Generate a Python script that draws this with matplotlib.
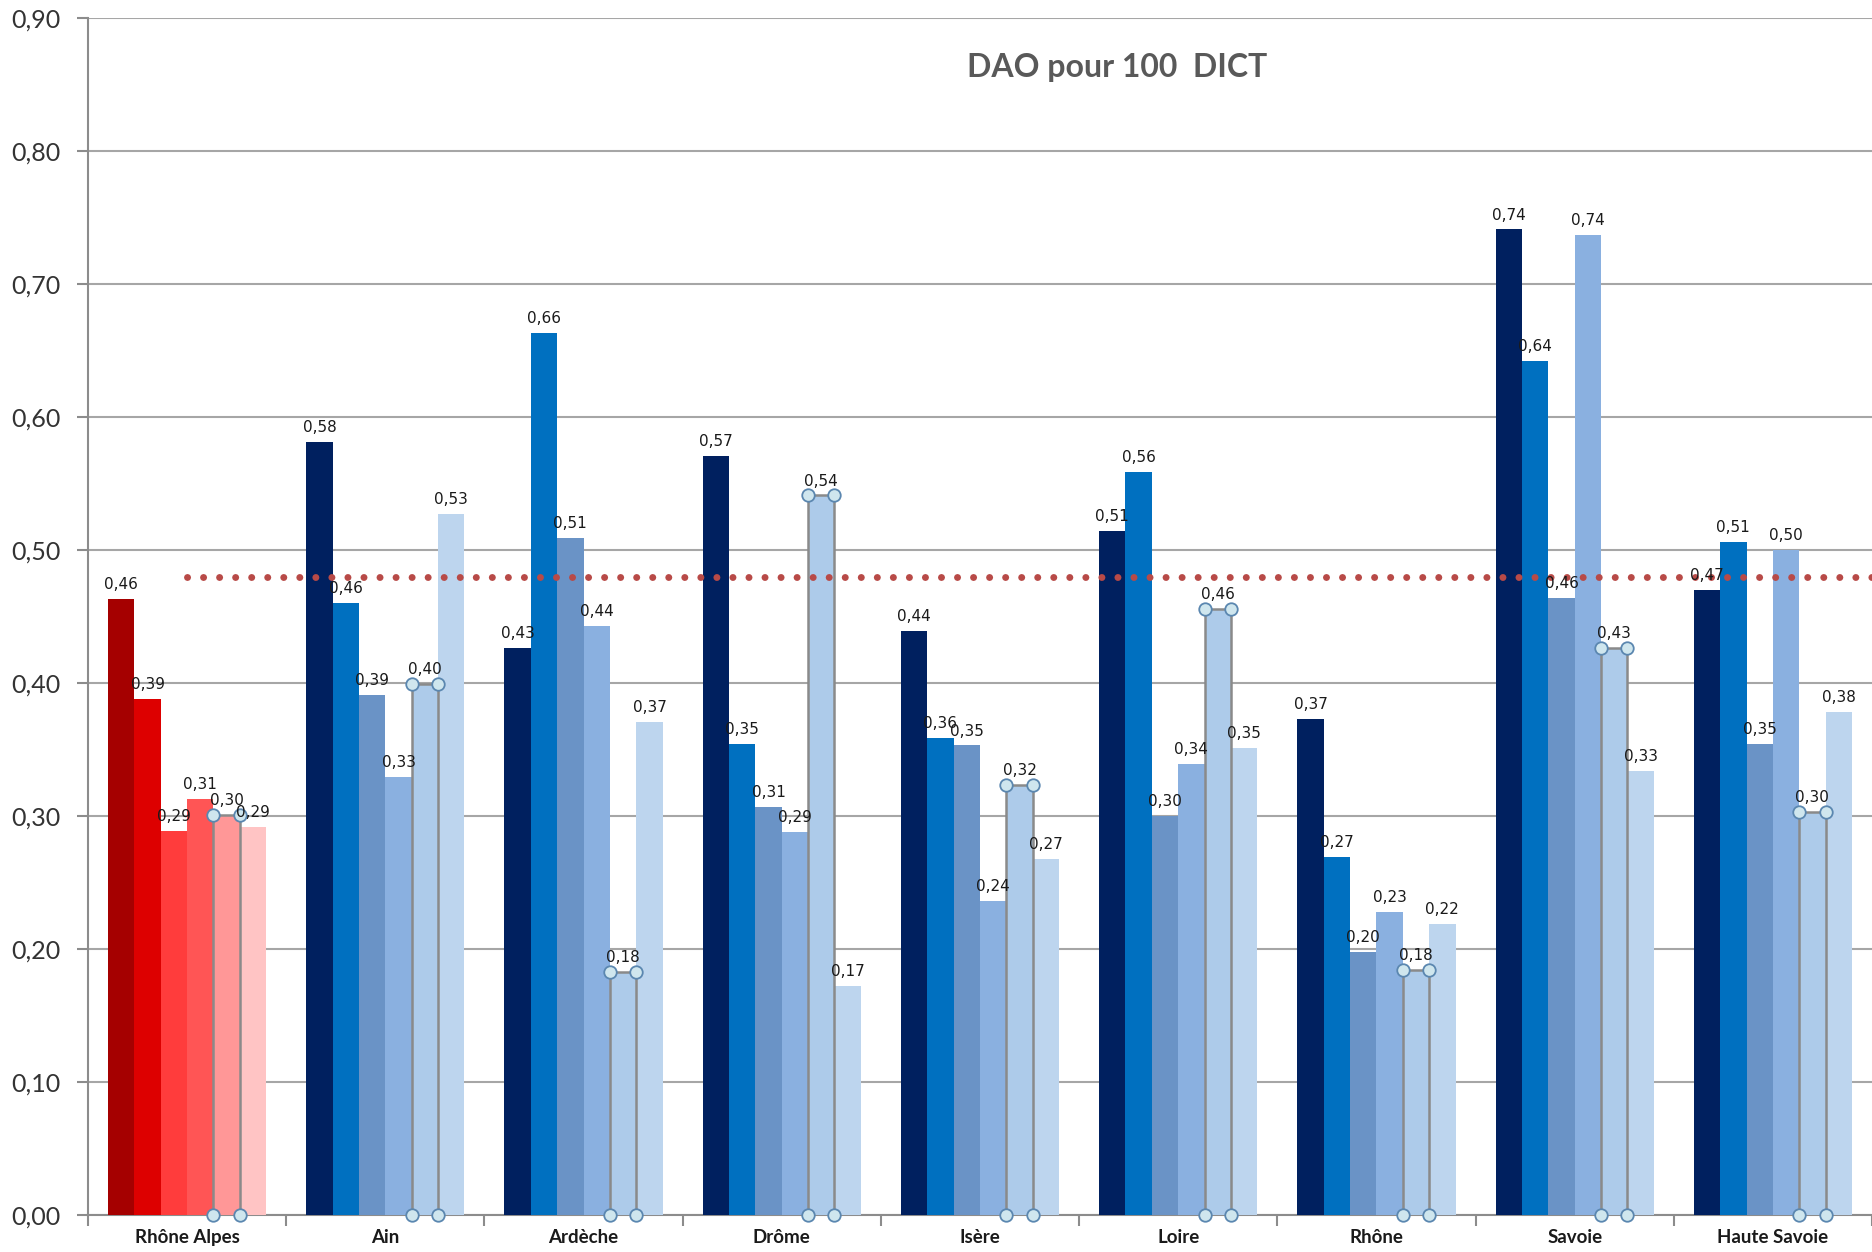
import matplotlib
matplotlib.use("Agg")
import matplotlib.pyplot as plt
import numpy as np

categories = ["Rhône Alpes", "Ain", "Ardèche", "Drôme", "Isère", "Loire", "Rhône", "Savoie", "Haute Savoie"]
s1 = [0.463, 0.581, 0.426, 0.571, 0.439, 0.514, 0.373, 0.741, 0.470]
s2 = [0.388, 0.460, 0.663, 0.354, 0.359, 0.559, 0.269, 0.642, 0.506]
s3 = [0.289, 0.391, 0.509, 0.307, 0.353, 0.300, 0.198, 0.464, 0.354]
s4 = [0.313, 0.329, 0.443, 0.288, 0.236, 0.339, 0.228, 0.737, 0.500]
s5 = [0.301, 0.399, 0.183, 0.541, 0.323, 0.456, 0.184, 0.426, 0.303]
s6 = [0.292, 0.527, 0.371, 0.172, 0.268, 0.351, 0.219, 0.334, 0.378]
series = [s1, s2, s3, s4, s5, s6]
reference_value = 0.48
title = "DAO pour 100  DICT"
yticks = [0.0, 0.1, 0.2, 0.3, 0.4, 0.5, 0.6, 0.7, 0.8, 0.9]

blue_colors = ["#00205F", "#0070C0", "#6A93C6", "#8AB0E0", "#ADCBEA", "#BDD5EE"]
red_colors = ["#A50000", "#DD0000", "#FF3C3C", "#FF5555", "#FF9797", "#FFC4C4"]

fig = plt.figure(figsize=(18.72, 12.52), dpi=100)
ax = fig.add_axes([0.047, 0.0296, 0.953, 0.956])

width = 0.133
x = np.arange(len(categories))
for i, s in enumerate(series):
    offs = (i - 2.5) * width
    cols = [red_colors[i] if j == 0 else blue_colors[i] for j in range(len(categories))]
    ax.bar(x + offs, s, width=width, color=cols, zorder=3, linewidth=0)
    for xi, v in zip(x + offs, s):
        ax.annotate(f"{v:.2f}".replace(".", ","), (xi, v), xytext=(0, 5),
                    textcoords="offset points", ha="center", va="bottom",
                    fontsize=11, family="DejaVu Sans", color="#1a1a1a", zorder=6)

# selection-handle outlines on the fifth series
offs5 = (4 - 2.5) * width
for xi, v in zip(x + offs5, s5):
    l, r = xi - width / 2, xi + width / 2
    ax.plot([l, l, r, r], [0, v, v, 0], color="#8a8a8a", lw=1.8, zorder=4, clip_on=False)
    ax.plot([l, r, l, r], [v, v, 0, 0], ls="none", marker="o", markersize=9,
            markerfacecolor="#CFE6EE", markeredgecolor="#5B87B0", markeredgewidth=1.3,
            zorder=5, clip_on=False)

# reference dotted line
ax.plot([0, len(categories) - 0.5], [reference_value, reference_value], color="#B84A47",
        lw=5, ls=(0, (0.01, 2.3)), dash_capstyle="round", zorder=4)

ax.set_xlim(-0.5, len(categories) - 0.5)
ax.set_ylim(0, 0.9)
ax.set_yticks(yticks)
ax.set_yticklabels([f"{t:.2f}".replace(".", ",") for t in yticks], family=["Lato", "DejaVu Sans"],
                   fontsize=18, color="#333333")
ax.yaxis.grid(True, color="#A6A6A6", lw=1.5, zorder=0)
ax.set_axisbelow(True)

ax.set_xticks(np.arange(-0.5, len(categories), 1.0))
ax.set_xticklabels([])
ax.set_xticks(x, minor=True)
ax.set_xticklabels(categories, minor=True, family=["Lato", "DejaVu Sans"], fontweight="bold",
                   fontsize=13.5, color="#1a1a1a")
ax.tick_params(axis="x", which="minor", length=0, pad=10)
ax.tick_params(axis="x", which="major", length=8, width=1.5, color="#8c8c8c", direction="out")
ax.tick_params(axis="y", length=8, width=1.5, color="#8c8c8c", pad=12)

for sp in ["top", "right"]:
    ax.spines[sp].set_visible(False)
for sp in ["left", "bottom"]:
    ax.spines[sp].set_color("#8c8c8c")
    ax.spines[sp].set_linewidth(1.5)

fig.text(0.597, 0.946, title, ha="center", va="center", fontsize=23, fontweight="bold",
         color="#595959", family=["Lato", "DejaVu Sans"])

fig.savefig("out.png", dpi=100)
